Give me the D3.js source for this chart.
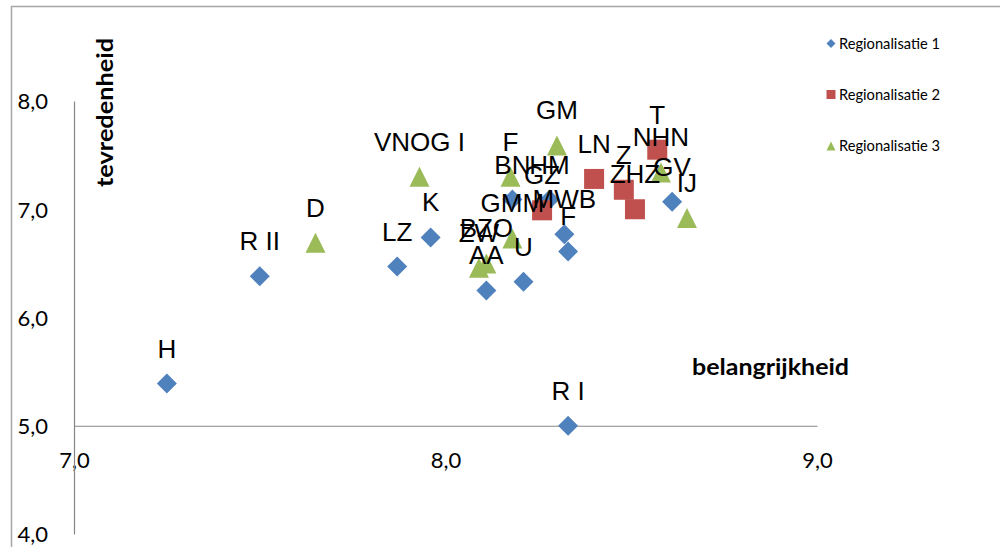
<!DOCTYPE html>
<html>
<head>
<meta charset="utf-8">
<script src="https://cdn.jsdelivr.net/npm/d3@7"></script>
<style>
  html, body { margin: 0; padding: 0; background: #fff; }
  svg { display: block; }
</style>
</head>
<body>
<svg id="chart" width="1000" height="547"></svg>
<script>
// ---- data ----
const seriesNames = ["Regionalisatie 1", "Regionalisatie 2", "Regionalisatie 3"];

const labelsR1 = ["H", "R II", "LZ", "K", "AA", "U", "BN", "HM", "MWB", "F", "GV", "R I"];
const importanceR1 = [7.25, 7.50, 7.87, 7.96, 8.11, 8.21, 8.18, 8.28, 8.32, 8.33, 8.61, 8.33];
const satisfactionR1 = [5.39, 6.38, 6.47, 6.74, 6.25, 6.33, 7.09, 7.09, 6.77, 6.61, 7.07, 5.00];

const labelsR2 = ["GZ", "LN", "Z", "ZHZ", "T"];
const importanceR2 = [8.26, 8.40, 8.48, 8.51, 8.57];
const satisfactionR2 = [6.99, 7.28, 7.18, 7.00, 7.55];

const labelsR3 = ["VNOG I", "D", "F", "GMM", "ZW", "BZO", "GM", "NHN", "IJ"];
const importanceR3 = [7.93, 7.65, 8.175, 8.18, 8.09, 8.11, 8.30, 8.58, 8.65];
const satisfactionR3 = [7.30, 6.69, 7.30, 6.73, 6.46, 6.50, 7.59, 7.34, 6.92];

const xTicks = [7, 8, 9];
const yTicks = [4, 5, 6, 7, 8];
const xTitle = "belangrijkheid";
const yTitle = "tevredenheid";

// ---- setup ----
const colors = ["#4F81BD", "#C0504D", "#9BBB59"];
const shapes = ["diamond", "square", "triangle"];
const svg = d3.select("#chart");

const x = d3.scaleLinear().domain([7, 9]).range([74, 817]);
const y = d3.scaleLinear().domain([4, 8]).range([534, 101]);
const crossY = 5; // x axis crosses at 5,0
const locale = d3.formatLocale({decimal: ",", thousands: ".", grouping: [3], currency: ["€", ""]});
const fmt = locale.format(".1f");

function shapePath(shape, s) {
  const h = s / 2;
  if (shape === "diamond") return `M0,${-h}L${h},0L0,${h}L${-h},0Z`;
  if (shape === "square") return `M${-h},${-h}H${h}V${h}H${-h}Z`;
  return `M0,${-h}L${h},${h}L${-h},${h}Z`;
}

// chart area border
svg.append("rect")
  .attr("x", 11.5).attr("y", 6.5).attr("width", 1000).attr("height", 600)
  .attr("fill", "none").attr("stroke", "#a6a6a6").attr("stroke-width", 1.5);

// x axis
const gx = svg.append("g").attr("transform", `translate(0,${y(crossY)})`)
  .call(d3.axisBottom(x).tickValues(xTicks).tickFormat(fmt).tickSize(0).tickSizeOuter(0));
gx.select(".domain").attr("stroke", "#868686").attr("stroke-width", 1.2);
gx.selectAll("text").attr("y", 42.5).attr("dy", 0)
  .attr("font-family", "Lato, 'Open Sans', sans-serif").attr("font-size", 22).attr("fill", "#000");

// y axis
const gy = svg.append("g").attr("transform", `translate(${x(7)},0)`)
  .call(d3.axisLeft(y).tickValues(yTicks).tickFormat(fmt).tickSize(0).tickSizeOuter(0));
gy.select(".domain").attr("stroke", "#868686").attr("stroke-width", 1.2);
gy.selectAll("text").attr("x", -26).attr("dy", "0.36em")
  .attr("font-family", "Lato, 'Open Sans', sans-serif").attr("font-size", 22).attr("fill", "#000");

// axis titles
svg.append("text")
  .attr("transform", "translate(113,112.5) rotate(-90)")
  .attr("text-anchor", "middle")
  .attr("font-family", "Lato, sans-serif").attr("font-weight", "bold").attr("font-size", 22)
  .attr("textLength", 149).attr("lengthAdjust", "spacingAndGlyphs")
  .text(yTitle);
svg.append("text")
  .attr("x", 692).attr("y", 375)
  .attr("font-family", "Lato, sans-serif").attr("font-weight", "bold").attr("font-size", 22)
  .attr("textLength", 157).attr("lengthAdjust", "spacingAndGlyphs")
  .text(xTitle);

// series
const series = [
  {name: seriesNames[0], labels: labelsR1, xs: importanceR1, ys: satisfactionR1},
  {name: seriesNames[1], labels: labelsR2, xs: importanceR2, ys: satisfactionR2},
  {name: seriesNames[2], labels: labelsR3, xs: importanceR3, ys: satisfactionR3}
];

series.forEach((s, i) => {
  const pts = s.labels.map((l, j) => ({label: l, x: s.xs[j], y: s.ys[j]}));
  svg.append("g").selectAll("path").data(pts).join("path")
    .attr("transform", d => `translate(${x(d.x)},${y(d.y)})`)
    .attr("d", shapePath(shapes[i], 20))
    .attr("fill", colors[i]);
});

const labelLayer = svg.append("g");
series.forEach((s, i) => {
  const pts = s.labels.map((l, j) => ({label: l, x: s.xs[j], y: s.ys[j]}));
  labelLayer.append("g").selectAll("text").data(pts).join("text")
    .attr("x", d => x(d.x)).attr("y", d => y(d.y) - 26)
    .attr("text-anchor", "middle")
    .attr("font-family", "'Liberation Sans', Arial, sans-serif").attr("font-size", 26)
    .attr("fill", "#000")
    .text(d => d.label);
});

// legend
const legendY = [43.5, 94.5, 146];
const lg = svg.append("g");
series.forEach((s, i) => {
  lg.append("path").attr("transform", `translate(831,${legendY[i]})`)
    .attr("d", shapePath(shapes[i], 9)).attr("fill", colors[i]);
  lg.append("text").attr("x", 839).attr("y", legendY[i] + 5)
    .attr("font-family", "Lato, sans-serif").attr("font-size", 15)
    .attr("textLength", 101).attr("lengthAdjust", "spacingAndGlyphs")
    .text(s.name);
});
</script>
</body>
</html>
